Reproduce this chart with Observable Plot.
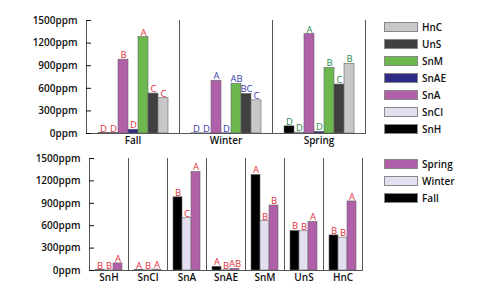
<!DOCTYPE html>
<html><head><meta charset="utf-8">
<script src="https://cdn.jsdelivr.net/npm/d3@7"></script>
<script src="https://cdn.jsdelivr.net/npm/@observablehq/plot@0.6"></script>
<style>
body{margin:0;background:#fff;font-family:"Open Sans",sans-serif;}
#wrap{position:relative;width:494px;height:306px;overflow:hidden;}
.chart{position:absolute;left:0;}
.item{position:absolute;left:384px;height:11px;display:flex;align-items:center;white-space:nowrap;font-size:10px;color:#111;font-weight:600;}
.sw{width:34px;height:10px;border:0.8px solid #888;margin-right:4px;box-sizing:border-box;}
</style></head><body><div id="wrap"></div>
<script>
const seasons = ["Fall", "Winter", "Spring"];
const soils = ["SnH", "SnCl", "SnA", "SnAE", "SnM", "UnS", "HnC"];
const fallValues = [5, 6, 980, 50, 1280, 530, 470];
const winterValues = [2, 2, 700, 3, 660, 525, 440];
const springValues = [95, 12, 1320, 22, 870, 650, 925];
const fallLetters = ["D", "D", "B", "D", "A", "C", "C"];
const winterLetters = ["D", "D", "A", "D", "AB", "BC", "C"];
const springLetters = ["D", "D", "A", "D", "B", "C", "B"];
const soilFallLetters = ["B", "A", "B", "A", "A", "B", "B"];
const soilWinterLetters = ["B", "B", "C", "B", "B", "B", "B"];
const soilSpringLetters = ["A", "A", "A", "AB", "B", "A", "A"];
const yTicks = [0, 300, 600, 900, 1200, 1500];
const soilColors = ["#000000", "#e3dff0", "#b060a8", "#2e2a86", "#6cb84e", "#404040", "#c8c8c8"];
const seasonColors = ["#000000", "#e3dff0", "#b060a8"];
const seasonLetterColors = ["#e2323e", "#3c3caa", "#2a8c4e"];
const bottomLetterColor = "#e2323e";
const topLegendOrder = ["HnC", "UnS", "SnM", "SnAE", "SnA", "SnCl", "SnH"];
const bottomLegendOrder = ["Spring", "Winter", "Fall"];

const seasonValues = [fallValues, winterValues, springValues];
const seasonLettersAll = [fallLetters, winterLetters, springLetters];
const soilLettersAll = [soilFallLetters, soilWinterLetters, soilSpringLetters];
const rows = seasons.flatMap((s, i) => soils.map((k, j) => ({
  season: s, soil: k, value: seasonValues[i][j],
  topLetter: seasonLettersAll[i][j], bottomLetter: soilLettersAll[i][j]
})));

const wrap = document.getElementById("wrap");
const fmt = d => d + "ppm";
const common = {
  width: 366, marginLeft: 86, marginRight: 1,
  style: {fontFamily: "Open Sans", fontSize: "10px", color: "#111", background: "transparent"}
};

const topChart = Plot.plot({
  ...common, height: 150, marginTop: 20, marginBottom: 17,
  fx: {domain: seasons, padding: 0},
  x: {domain: soils, axis: null, paddingInner: 0.05, paddingOuter: 0.8},
  y: {domain: [0, 1500]},
  color: {domain: soils, range: soilColors},
  marks: [
    Plot.barY(rows, {fx: "season", x: "soil", y: "value", fill: "soil", stroke: "#666", strokeWidth: 0.6}),
    ...seasons.map((s, i) => Plot.text(rows.filter(d => d.season === s), {
      fx: "season", x: "soil", y: "value", text: "topLetter", fill: seasonLetterColors[i],
      lineAnchor: "bottom", dy: -1.5, fontSize: 9.5
    })),
    Plot.ruleY([0], {stroke: "#555"}),
    Plot.frame({anchor: "left", stroke: "#555"}),
    Plot.frame({anchor: "right", facetAnchor: "right", stroke: "#555"}),
    Plot.axisY({ticks: yTicks, tickFormat: fmt, tickSize: -5, label: null, fontSize: 10, fontWeight: 600}),
    Plot.axisFx({anchor: "bottom", tickSize: 0, tickPadding: 3, label: null, fontSize: 10, fontWeight: 600})
  ]
});
topChart.classList.add("chart");
topChart.style.top = "0px";
wrap.appendChild(topChart);

const bottomChart = Plot.plot({
  ...common, height: 161, marginTop: 13, marginBottom: 36,
  fx: {domain: soils, padding: 0},
  x: {domain: seasons, axis: null, paddingInner: 0.02, paddingOuter: 0.5},
  y: {domain: [0, 1500]},
  color: {domain: seasons, range: seasonColors},
  marks: [
    Plot.barY(rows, {fx: "soil", x: "season", y: "value", fill: "season", stroke: "#666", strokeWidth: 0.6}),
    Plot.text(rows, {fx: "soil", x: "season", y: "value", text: "bottomLetter", fill: bottomLetterColor,
      lineAnchor: "bottom", dy: -1.5, fontSize: 9.5}),
    Plot.ruleY([0], {stroke: "#555"}),
    Plot.frame({anchor: "left", stroke: "#555"}),
    Plot.frame({anchor: "right", facetAnchor: "right", stroke: "#555"}),
    Plot.axisY({ticks: yTicks, tickFormat: fmt, tickSize: -5, label: null, fontSize: 10, fontWeight: 600}),
    Plot.axisFx({anchor: "bottom", tickSize: 0, tickPadding: 3, label: null, fontSize: 10, fontWeight: 600})
  ]
});
bottomChart.classList.add("chart");
bottomChart.style.top = "145px";
wrap.appendChild(bottomChart);

function legend(keys, domain, range, top0) {
  keys.forEach((k, i) => {
    const item = document.createElement("div");
    item.className = "item";
    item.style.top = (top0 + 17 * i) + "px";
    const sw = document.createElement("div");
    sw.className = "sw";
    sw.style.background = range[domain.indexOf(k)];
    const t = document.createElement("span");
    t.textContent = k;
    item.appendChild(sw); item.appendChild(t);
    wrap.appendChild(item);
  });
}
legend(topLegendOrder, soils, soilColors, 21);
legend(bottomLegendOrder, seasons, seasonColors, 158);
</script></body></html>
